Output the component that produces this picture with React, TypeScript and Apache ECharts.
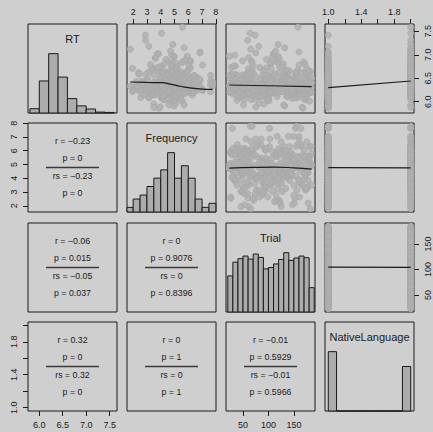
import React, { useEffect, useRef } from "react";
import * as echarts from "echarts";

const varNames = ["RT", "Frequency", "Trial", "NativeLanguage"];
const varRanges: [number, number][] = [
  [5.759, 7.657],
  [1.553, 8.011],
  [16.52, 191.48],
  [0.96, 2.04],
];

const rtTicks = [6.0, 6.5, 7.0, 7.5];
const freqTicks = [2, 3, 4, 5, 6, 7, 8];
const trialTicks = [50, 100, 150];
const nlTicks = [1.0, 1.2, 1.4, 1.6, 1.8, 2.0];
const nlTickLabels = [1.0, 1.4, 1.8];

const rtBreaks = [5.8, 6.0, 6.2, 6.4, 6.6, 6.8, 7.0, 7.2, 7.4, 7.6];
const rtHeights = [0.072, 0.54, 1, 0.605, 0.243, 0.12, 0.067, 0.015, 0.01];
const freqBreaks = [1.5, 2, 2.5, 3, 3.5, 4, 4.5, 5, 5.5, 6, 6.5, 7, 7.5, 8];
const freqHeights = [0.078, 0.218, 0.285, 0.43, 0.57, 0.71, 1, 0.57, 0.78, 0.57, 0.218, 0.078, 0.146];
const trialBreaks = [20, 30, 40, 50, 60, 70, 80, 90, 100, 110, 120, 130, 140, 150, 160, 170, 180, 190];
const trialHeights = [0.608, 0.84, 0.898, 0.943, 0.892, 0.977, 0.92, 0.727, 0.75, 0.81, 0.886, 1, 0.87, 0.91, 0.943, 0.915, 0.41];
const nlBreaks = [1.0, 1.1, 1.2, 1.3, 1.4, 1.5, 1.6, 1.7, 1.8, 1.9, 2.0];
const nlHeights = [1, 0, 0, 0, 0, 0, 0, 0, 0, 0.75];

// English speakers (NativeLanguage = 1)
const engRT = [
  6.34,6.18,6.52,6.09,6.41,6.27,6.63,5.97,6.36,6.22,
  6.48,6.15,6.71,6.30,6.05,6.44,6.25,6.58,6.12,6.39,
  6.20,6.33,6.08,6.46,6.28,6.86,6.17,6.38,6.02,6.55,
  6.24,6.31,6.13,6.42,6.26,6.94,6.11,6.37,6.21,6.50,
  5.91,6.35,6.19,6.45,6.29,6.62,6.07,6.40,6.23,7.06,
  6.16,6.32,6.49,6.04,6.27,6.38,6.14,6.57,6.22,6.33,
  6.76,6.10,6.43,6.25,6.18,6.36,5.86,6.47,6.28,6.65,
  6.12,6.34,6.20,6.41,6.97,6.16,6.30,6.06,6.53,6.24,
  6.39,6.13,6.60,6.27,7.18,6.21,6.35,6.09,6.44,6.19,
  6.31,6.68,6.03,6.37,6.23,6.51,6.15,6.82,6.26,7.42,
  6.11,6.40,6.29,5.95,6.46,6.17,6.56,6.32,6.20,6.42,
  6.33,6.25,6.14,6.48,6.37,6.08,6.29,6.21,6.59,6.35,
  6.19,6.44,6.26,6.01,6.31,6.73,6.23,6.38,6.12,6.28,
  6.45,6.17,6.34,6.90,6.22,6.05,6.39,6.27,6.54,6.18,
  6.30,6.41,5.93,6.24,6.36,6.62,6.15,6.33,6.21,7.02,
  6.43,6.27,6.10,6.49,6.32,6.20,6.37,6.78,6.25,6.13,
  6.40,6.29,6.52,6.07,6.35,6.22,6.46,6.18,6.31,6.64,
  6.26,5.89,6.38,6.23,6.42,6.16,6.30,6.57,6.34,6.11,
  6.28,6.45,6.20,6.36,6.84,6.25,6.04,6.33,6.19,6.50,
];
const engFreq = [
  4.71,3.26,5.93,2.56,4.88,6.16,3.97,5.08,4.39,1.95,
  5.69,4.60,3.50,6.30,4.17,7.62,4.97,2.89,5.32,4.80,
  3.74,5.58,4.06,6.04,2.20,4.51,5.19,3.85,4.71,6.44,
  3.14,5.80,4.28,4.88,7.04,3.61,5.46,2.64,4.60,5.93,
  4.97,3.37,6.16,4.39,5.08,2.40,4.80,5.69,3.97,6.85,
  4.17,5.32,3.04,4.71,5.58,4.51,6.30,3.50,4.88,1.79,
  5.19,4.06,5.80,2.77,4.60,6.04,3.85,4.97,5.46,3.26,
  4.28,7.77,4.80,3.74,5.93,4.39,2.08,5.08,4.71,6.64,
  3.61,4.51,5.69,4.17,3.14,6.16,4.88,5.32,2.56,4.60,
  5.58,3.97,4.97,6.44,4.06,5.19,3.37,4.80,5.80,2.89,
  4.28,6.30,4.71,3.50,5.46,4.39,7.62,3.85,5.08,4.60,
  5.93,2.30,4.88,5.69,3.74,4.51,6.04,4.17,5.32,3.04,
  4.97,6.85,4.28,5.58,3.61,4.80,2.64,5.19,4.06,6.16,
  4.71,3.26,5.80,4.39,1.95,5.46,4.60,3.97,6.30,5.08,
  4.88,3.50,5.69,7.04,4.17,5.32,2.77,4.51,6.44,3.85,
  4.97,5.93,3.14,4.28,5.58,4.80,2.20,6.04,4.06,5.19,
  3.74,4.71,6.64,4.39,5.46,3.37,4.60,5.80,2.40,4.88,
  6.16,3.97,5.08,4.17,7.77,3.61,5.69,4.51,3.04,5.32,
  4.97,6.30,2.56,4.80,5.58,3.85,4.28,6.85,4.06,5.93,
];
const engTrial = [
  23,118,64,152,37,97,171,82,129,46,
  143,58,105,180,71,29,162,89,136,52,
  111,175,41,94,123,67,148,33,101,157,
  76,184,49,115,139,61,86,26,166,108,
  132,55,92,178,39,121,146,69,103,160,
  31,84,127,172,44,98,141,62,113,182,
  35,79,124,150,57,95,168,47,107,134,
  72,155,24,88,119,177,53,99,137,66,
  163,42,112,145,81,30,126,174,60,93,
  116,158,38,85,130,179,50,104,142,74,
  117,165,28,91,135,63,153,109,183,45,
  25,122,68,149,36,100,170,80,131,48,
  140,56,106,181,73,27,161,90,138,54,
  114,176,40,96,125,65,147,32,102,156,
  78,185,51,117,141,59,87,34,164,110,
  133,43,94,173,77,120,151,70,128,159,
  58,83,125,169,46,97,144,61,115,183,
  37,75,123,153,64,92,167,49,108,136,
  71,154,26,89,118,178,52,103,139,65,
];

// Other native language (NativeLanguage = 2)
const othRT = [
  6.47,6.31,6.69,6.22,6.58,6.40,6.85,6.12,6.52,6.35,
  6.66,6.28,6.95,6.43,6.18,6.60,6.78,6.49,6.25,6.55,
  6.37,6.63,6.20,6.72,6.41,7.12,6.33,6.76,6.15,6.61,
  6.38,6.50,6.27,6.89,6.44,7.31,6.24,6.56,6.36,7.02,
  5.93,6.53,6.32,6.70,6.46,7.22,6.21,6.59,6.39,7.59,
  6.29,6.48,6.81,6.17,6.42,6.57,6.26,7.46,6.37,6.64,
  6.99,6.23,6.74,6.40,6.30,6.54,5.88,6.87,6.45,7.15,
  6.26,6.51,6.34,6.67,6.92,6.31,6.47,6.19,6.62,6.38,
  6.28,6.43,7.08,6.35,6.73,6.58,6.22,6.79,6.33,6.49,
  6.41,6.08,6.56,6.30,6.65,6.24,6.44,6.83,6.36,6.52,
  6.27,6.60,6.39,6.14,6.48,6.71,6.32,6.55,6.20,6.45,
  6.97,6.34,6.62,6.25,6.42,6.05,6.50,6.37,6.76,6.29,
  6.46,6.58,6.18,6.40,7.04,6.33,6.53,6.23,6.68,6.38,
  6.31,6.44,6.11,6.57,6.35,6.86,6.27,6.48,6.21,6.63,
];
const othFreq = [
  5.08,4.39,6.04,3.50,4.80,2.64,5.58,4.17,6.30,4.71,
  3.85,5.32,4.97,2.20,5.69,4.60,7.04,3.97,4.88,5.93,
  4.28,3.14,5.19,6.16,4.51,1.79,5.46,4.06,3.61,4.80,
  6.44,4.97,3.26,5.80,4.39,2.89,5.08,4.71,7.62,3.74,
  4.60,5.69,4.17,3.37,6.04,4.88,5.32,2.40,4.51,5.58,
  3.97,6.85,4.28,5.19,3.04,4.71,5.93,4.06,2.77,5.46,
  4.80,6.30,3.85,4.97,5.08,4.39,3.50,6.16,4.60,5.69,
  2.56,4.88,5.80,4.17,3.61,6.64,4.51,5.32,4.28,7.77,
  3.74,5.58,4.71,2.08,5.19,4.97,6.04,3.26,4.80,5.46,
  4.06,3.14,6.44,4.39,5.93,4.60,2.89,5.08,4.88,3.97,
  6.16,4.51,5.69,3.37,4.71,1.95,5.32,4.28,6.30,3.85,
  4.97,5.80,4.17,7.04,3.50,4.60,5.58,2.64,4.80,6.04,
  4.39,5.19,3.74,4.88,6.85,4.06,5.46,3.04,4.71,5.93,
  2.30,4.97,5.08,4.51,3.61,6.16,4.28,5.69,7.62,4.80,
];
const othTrial = [
  25,122,68,150,36,99,169,80,131,48,
  141,56,107,178,73,27,160,91,138,54,
  113,173,43,96,125,65,146,32,103,155,
  78,185,51,117,137,59,88,24,164,110,
  130,57,94,176,40,119,148,71,101,158,
  33,86,129,170,46,100,143,64,115,180,
  34,77,122,152,59,93,166,49,105,132,
  70,157,26,90,121,175,55,97,139,68,
  161,44,114,147,83,31,128,172,62,95,
  118,156,39,87,133,177,52,106,144,76,
  120,163,29,92,136,61,151,111,184,47,
  23,124,66,149,38,98,171,82,127,50,
  142,58,104,179,75,28,159,89,134,53,
  112,174,41,97,126,67,145,35,102,154,
];

// smoother lines for upper panels
const smoothRTFreq = [[1.79,6.42],[3.0,6.41],[4.07,6.405],[4.8,6.37],[5.4,6.33],[6.0,6.30],[6.8,6.275],[7.77,6.262]];
const smoothRTTrial = [[23,6.356],[100,6.34],[185,6.32]];
const smoothRTNL = [[1,6.30],[2,6.441]];
const smoothFreqTrial = [[23,4.74],[70,4.79],[110,4.81],[150,4.76],[185,4.67]];
const smoothFreqNL = [[1,4.77],[2,4.76]];
const smoothTrialNL = [[1,104.9],[2,104.3]];

// correlation texts for lower panels: [row, col, r, p, rs, p]
const corrCells: [number, number, string, string, string, string][] = [
  [1, 0, "\u22120.23", "0", "\u22120.23", "0"],
  [2, 0, "\u22120.06", "0.015", "\u22120.05", "0.037"],
  [2, 1, "0", "0.9076", "0", "0.8396"],
  [3, 0, "0.32", "0", "0.32", "0"],
  [3, 1, "0", "1", "0", "1"],
  [3, 2, "\u22120.01", "0.5929", "\u22120.01", "0.5966"],
];

const GRID_LEFT = [28, 127, 226, 325];
const GRID_TOP = [24, 123, 223, 322];
const GRID_W = 89;
const GRID_H = 89;
const FONT = "'Liberation Sans', Arial, Helvetica, sans-serif";
const BG = "#cfcfcf";
const INK = "#1a1a1a";
const POINT = "#a9a9a9";
const POINT_FILL = "#afafaf";
const BAR = "#acacac";

const tickSpec = [
  { ticks: rtTicks, labels: rtTicks, fmt: (v: number) => v.toFixed(1) },
  { ticks: freqTicks, labels: freqTicks, fmt: (v: number) => String(v) },
  { ticks: trialTicks, labels: trialTicks, fmt: (v: number) => String(v) },
  { ticks: nlTicks, labels: nlTickLabels, fmt: (v: number) => v.toFixed(1) },
];

const hists = [
  { breaks: rtBreaks, heights: rtHeights },
  { breaks: freqBreaks, heights: freqHeights },
  { breaks: trialBreaks, heights: trialHeights },
  { breaks: nlBreaks, heights: nlHeights },
];

const smoothers: Record<string, number[][]> = {
  "0-1": smoothRTFreq,
  "0-2": smoothRTTrial,
  "0-3": smoothRTNL,
  "1-2": smoothFreqTrial,
  "1-3": smoothFreqNL,
  "2-3": smoothTrialNL,
};

function buildOption() {
  const obs: number[][] = [
    ...engRT.map((v, k) => [v, engFreq[k], engTrial[k], 1]),
    ...othRT.map((v, k) => [v, othFreq[k], othTrial[k], 2]),
  ];
  const grid: any[] = [];
  const xAxis: any[] = [];
  const yAxis: any[] = [];
  const series: any[] = [];
  const graphic: any[] = [];

  const axisBase = (range: [number, number], idx: number) => ({
    type: "value",
    gridIndex: idx,
    min: range[0],
    max: range[1],
    axisLine: { show: false },
    splitLine: { show: false },
    axisTick: { show: false },
    axisLabel: { show: false },
  });

  for (let row = 0; row < 4; row++) {
    for (let col = 0; col < 4; col++) {
      const g = row * 4 + col;
      grid.push({
        left: GRID_LEFT[col],
        top: GRID_TOP[row],
        width: GRID_W,
        height: GRID_H,
        show: true,
        borderColor: INK,
        borderWidth: 1,
        backgroundColor: "transparent",
      });
      const xa: any = axisBase(varRanges[col], g);
      const ya: any = axisBase(row === col ? [0, 1.5] : varRanges[row], g);
      const xTop = row === 0 && col % 2 === 1;
      const xBottom = row === 3 && col % 2 === 0;
      if (xTop || xBottom) {
        const sp = tickSpec[col];
        xa.position = xTop ? "top" : "bottom";
        xa.axisTick = { show: true, length: 5, customValues: sp.ticks, lineStyle: { color: INK, width: 1 } };
        xa.axisLabel = {
          show: true,
          customValues: sp.labels,
          formatter: sp.fmt,
          margin: xTop ? 8 : 9,
          fontSize: 9,
          fontFamily: FONT,
          color: INK,
        };
      }
      const yLeft = col === 0 && row % 2 === 1;
      const yRight = col === 3 && row % 2 === 0;
      if (yLeft || yRight) {
        const sp = tickSpec[row];
        ya.position = yLeft ? "left" : "right";
        ya.axisTick = { show: true, length: 5, customValues: sp.ticks, lineStyle: { color: INK, width: 1 } };
        ya.axisLabel = {
          show: true,
          customValues: sp.labels,
          formatter: sp.fmt,
          rotate: 90,
          margin: yLeft ? 10 : 9,
          fontSize: 9,
          fontFamily: FONT,
          color: INK,
        };
      }
      xAxis.push(xa);
      yAxis.push(ya);

      const cx = GRID_LEFT[col] + GRID_W / 2;
      if (row === col) {
        const h = hists[row];
        const data = h.heights.map((v, k) => [h.breaks[k], h.breaks[k + 1], v]);
        series.push({
          type: "custom",
          xAxisIndex: g,
          yAxisIndex: g,
          data,
          encode: { x: [0, 1], y: 2 },
          renderItem: (params: any, api: any) => {
            const p0 = api.coord([api.value(0), api.value(2)]);
            const p1 = api.coord([api.value(1), 0]);
            const rect = echarts.graphic.clipRectByRect(
              { x: p0[0], y: p0[1], width: p1[0] - p0[0], height: p1[1] - p0[1] },
              params.coordSys
            );
            if (!rect) return null;
            return {
              type: "rect",
              shape: rect,
              style: { fill: BAR, stroke: INK, lineWidth: 1 },
            };
          },
        });
        graphic.push({
          type: "text",
          x: cx,
          y: GRID_TOP[row] + 15,
          style: {
            text: varNames[row],
            fill: INK,
            fontSize: 11,
            fontFamily: FONT,
            align: "center",
            verticalAlign: "middle",
          },
        });
      } else if (col > row) {
        series.push({
          type: "scatter",
          xAxisIndex: g,
          yAxisIndex: g,
          symbol: "circle",
          symbolSize: 6,
          clip: true,
          itemStyle: { color: POINT_FILL, borderColor: POINT, borderWidth: 1 },
          data: obs.map((o) => [o[col], o[row]]),
        });
        series.push({
          type: "line",
          xAxisIndex: g,
          yAxisIndex: g,
          showSymbol: false,
          symbol: "none",
          smooth: true,
          lineStyle: { color: INK, width: 1.2 },
          data: smoothers[`${row}-${col}`],
        });
      }
    }
  }

  corrCells.forEach(([row, col, r, p, rs, p2]) => {
    const cx = GRID_LEFT[col] + GRID_W / 2;
    const top = GRID_TOP[row];
    const lines = [
      [`r = ${r}`, 0.207],
      [`p = ${p}`, 0.398],
      [`rs = ${rs}`, 0.6],
      [`p = ${p2}`, 0.787],
    ] as [string, number][];
    lines.forEach(([t, f]) => {
      graphic.push({
        type: "text",
        x: cx,
        y: top + GRID_H * f,
        style: {
          text: t,
          fill: INK,
          fontSize: 8.8,
          fontFamily: FONT,
          align: "center",
          verticalAlign: "middle",
        },
      });
    });
    graphic.push({
      type: "line",
      shape: { x1: cx - 26.5, y1: top + GRID_H * 0.5, x2: cx + 26.5, y2: top + GRID_H * 0.5 },
      style: { stroke: "#3a3a3a", lineWidth: 1.3 },
    });
  });

  return {
    animation: false,
    backgroundColor: BG,
    grid,
    xAxis,
    yAxis,
    series,
    graphic,
  };
}

export default function App() {
  const ref = useRef<HTMLDivElement>(null);
  useEffect(() => {
    if (!ref.current) return;
    const chart = echarts.init(ref.current, undefined, { renderer: "svg" });
    chart.setOption(buildOption() as any);
    return () => chart.dispose();
  }, []);
  return (
    <div
      ref={ref}
      style={{ position: "absolute", left: 0, top: 0, width: 433, height: 432, background: BG }}
    />
  );
}
